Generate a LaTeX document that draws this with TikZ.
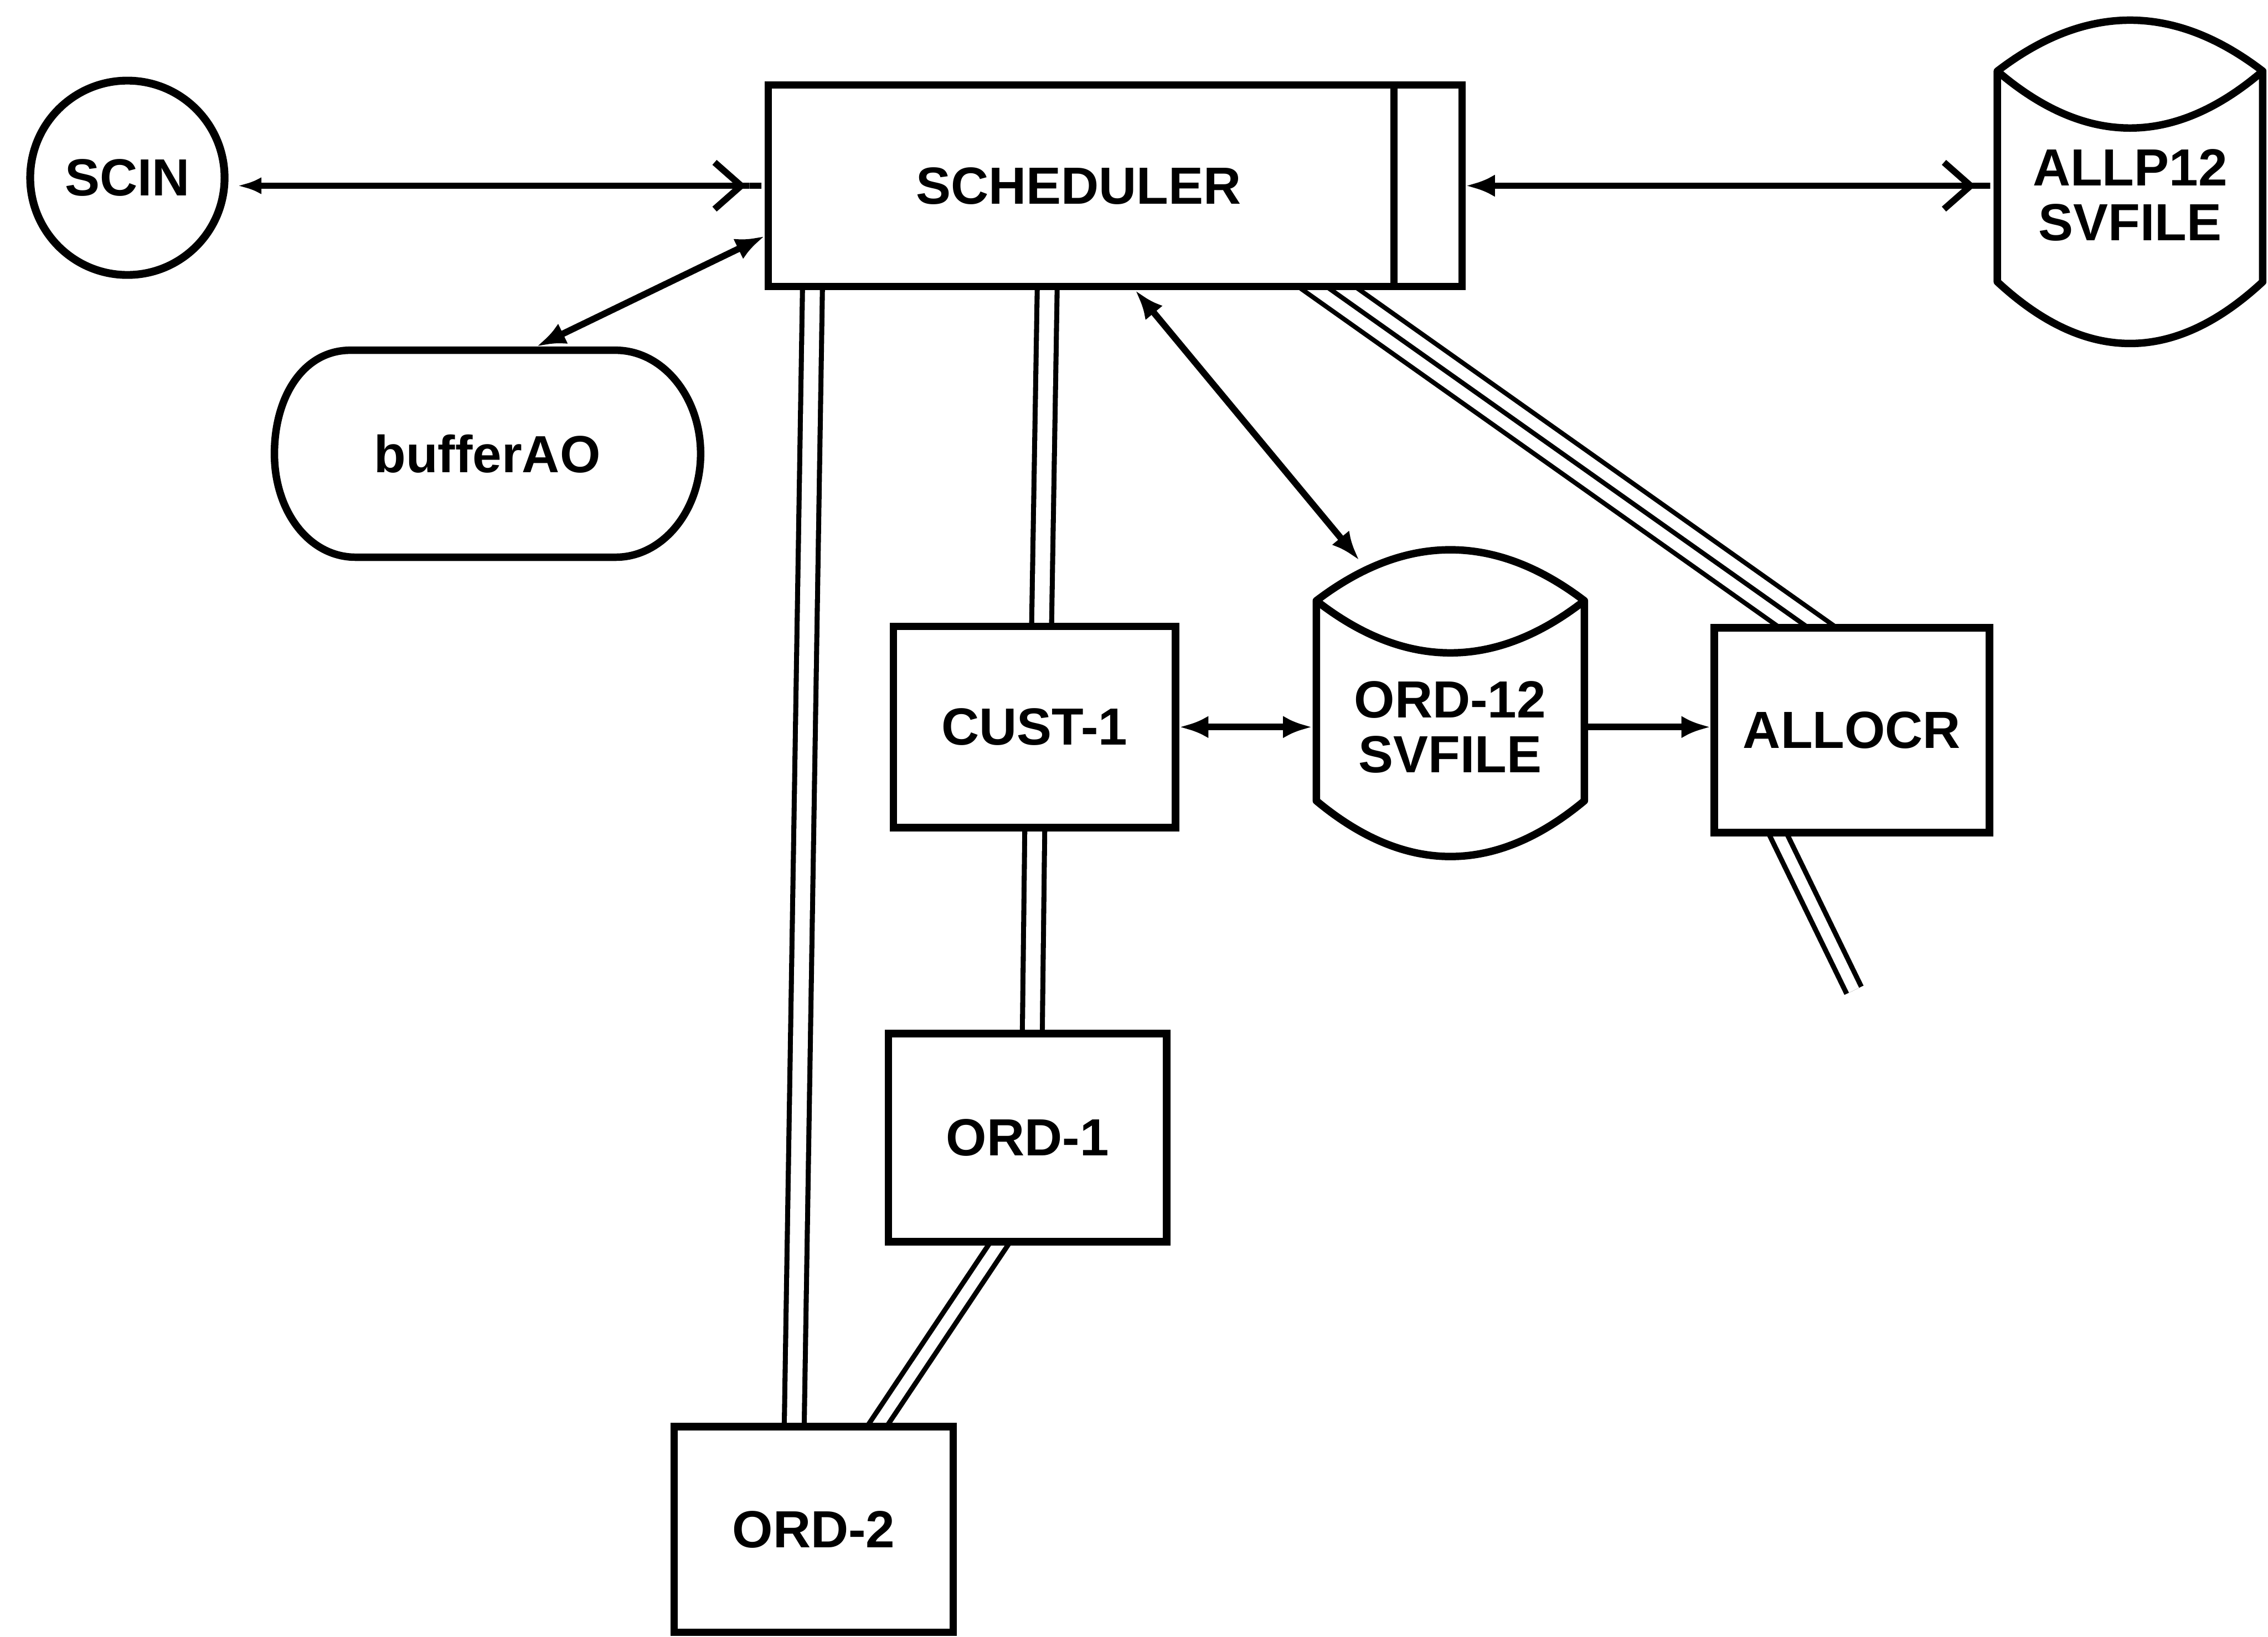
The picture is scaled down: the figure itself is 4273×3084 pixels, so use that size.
\documentclass[tikz,border=0pt]{standalone}
\usepackage{fontspec}
\setmainfont{Liberation Sans}
\usetikzlibrary{arrows.meta,backgrounds}
\newcommand\lblfont{\fontsize{28}{29.3}\selectfont\bfseries}
\begin{document}
\begin{tikzpicture}[x=0.01cm,y=-0.01cm,
  box/.style={draw,line width=4pt,fill=white,inner sep=0pt,font=\lblfont},
  ghost/.style={inner sep=0pt,outer sep=0.07cm,font=\lblfont,align=center},
  shp/.style={draw,line width=4pt,fill=white,line join=round},
  arr/.style={line width=3.5pt},
  dbl/.style={line width=2.7pt,double=white,double distance=0.28cm,shorten <=-0.3cm,shorten >=-0.3cm},
  ddbl/.style={line width=2.7pt,double=white,double distance=0.21cm,shorten <=-0.4cm,shorten >=-0.4cm},
  fdbl/.style={line width=2.7pt,double=white,double distance=0.21cm,shorten <=-0.4cm},
  tri/.style={line width=2.5pt,double=white,double distance=0.53cm,shorten <=-0.5cm,shorten >=-0.5cm},
  mid/.style={line width=2.5pt,shorten <=-0.5cm,shorten >=-0.5cm},
  Ftip/.tip={Latex[length=0.55cm,width=0.42cm]},
  Stip/.tip={Latex[length=0.45cm,width=0.32cm]},
  Otip/.tip={Straight Barb[length=0.5cm,width=0.88cm]}
]
\useasboundingbox (0,0) rectangle (4273,3084);

% ---- nodes ----
\node[box,circle,minimum size=3.66cm,line width=4.2pt] (scin) at (240,335) {SCIN};
\node[box,minimum width=13.06cm,minimum height=3.8cm] (sched) at (2101,350) {SCHEDULER\hspace*{1.38cm}};
\draw[line width=4pt] ([xshift=-1.35cm]sched.north east) -- ([xshift=-1.35cm]sched.south east);

\node[box,minimum width=5.31cm,minimum height=3.79cm] (cust1) at (1949,1370) {CUST-1};
\node[box,minimum width=5.24cm,minimum height=3.92cm] (ord1) at (1936,2144) {ORD-1};
\node[box,minimum width=5.25cm,minimum height=3.87cm] (ord2) at (1533,2882) {ORD-2};
\node[box,minimum width=5.18cm,minimum height=3.86cm] (allocr) at (3489,1376) {ALLOCR};

% bufferAO outline
\path[shp] (660,660) -- (1160,660) .. controls (1248,660) and (1320,747) .. (1320,855)
  .. controls (1320,963) and (1248,1050) .. (1160,1050) -- (670,1050)
  .. controls (582,1050) and (517,963) .. (517,855)
  .. controls (517,747) and (572,660) .. (660,660) -- cycle;
\node[ghost,minimum width=8.03cm,minimum height=3.9cm] (buf) at (918,855) {bufferAO};

% ALLP12 SVFILE cylinder
\path[shp] (3763,134) .. controls (3930,6) and (4096,6) .. (4263,134) -- (4263,531)
  .. controls (4096,686) and (3930,686) .. (3763,531) -- cycle;
\draw[line width=4pt] (3763,134) .. controls (3930,277) and (4096,277) .. (4263,134);
\node[ghost,minimum width=5cm] (allp) at (4013,368) {ALLP12\\SVFILE};

% ORD-12 SVFILE cylinder
\path[shp] (2480,1132) .. controls (2648,1004) and (2817,1004) .. (2985,1132) -- (2985,1509)
  .. controls (2817,1649) and (2648,1649) .. (2480,1509) -- cycle;
\draw[line width=4pt] (2480,1132) .. controls (2648,1263) and (2817,1263) .. (2985,1132);
\node[ghost,minimum width=5.05cm,minimum height=6.68cm] (ord12) at (2732,1370) {ORD-12\\SVFILE};

\coordinate (allocrend) at (3493,1866);

% ---- multi-line links (behind boxes) ----
\begin{pgfonlayer}{background}
\draw[dbl] ([xshift=0.90cm]sched.south west) -- ([xshift=2.33cm]ord2.north west);
\draw[dbl] ([xshift=5.32cm]sched.south west) -- ([xshift=2.86cm]cust1.north west);
\draw[dbl] ([xshift=2.73cm]cust1.south west) -- ([xshift=2.78cm]ord1.north west);
\draw[ddbl] ([xshift=2.13cm]ord1.south west) -- ([xshift=3.93cm]ord2.north west);
\draw[tri] ([xshift=10.68cm]sched.south west) -- ([xshift=1.74cm]allocr.north west);
\draw[mid] ([xshift=10.68cm]sched.south west) -- ([xshift=1.74cm]allocr.north west);
\draw[fdbl] ([xshift=1.29cm]allocr.south west) -- (allocrend);
\end{pgfonlayer}

% ---- arrows ----
\draw[arr,shorten <=0.17cm,{Stip[]}-{Otip[] Rectangle[length=0.35cm,width=3.5pt]}] (scin.east |- sched.west) -- (sched.west);
\draw[arr,{Ftip[]}-{Otip[] Rectangle[length=0.34cm,width=3.5pt]}] (sched.east) -- (sched.east -| allp.west);
\draw[arr,{Ftip[]}-{Ftip[]}] ([xshift=0.93cm]buf.north) -- ([yshift=-0.95cm]sched.west);
\draw[arr,{Ftip[]}-{Ftip[]}] ([xshift=6.98cm]sched.south west) -- ([xshift=-1.71cm,yshift=-0.27cm]ord12.north);
\draw[arr,{Ftip[]}-{Ftip[]}] (cust1.east) -- (cust1.east -| ord12.west);
\draw[arr,-{Ftip[]}] (ord12.east) -- (ord12.east -| allocr.west);
\end{tikzpicture}
\end{document}
